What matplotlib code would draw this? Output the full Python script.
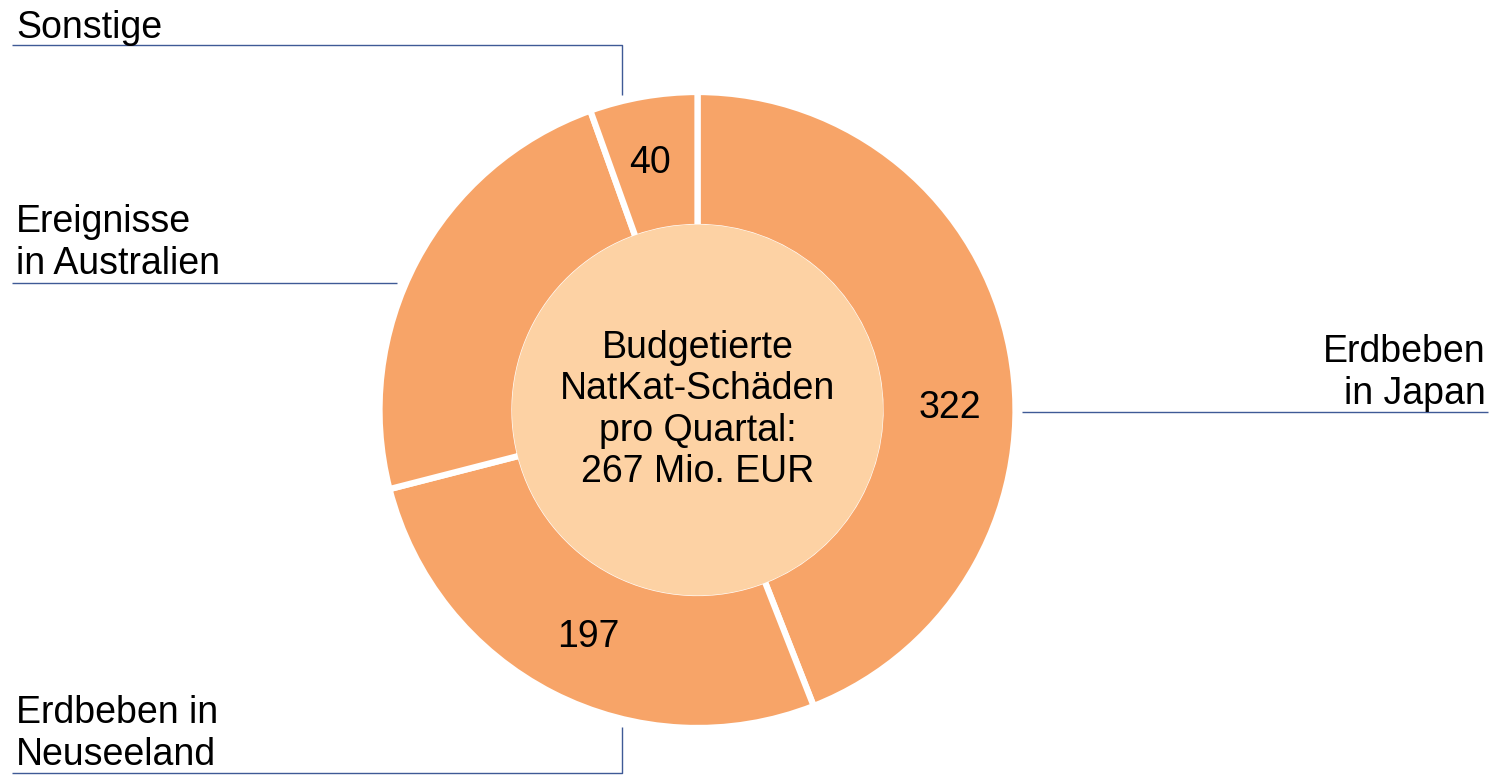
import matplotlib
matplotlib.use('Agg')
import matplotlib.pyplot as plt
from matplotlib.patches import Circle

# Budgetierte NatKat-Schäden je Region (Mio. EUR)
regionen = ['Erdbeben in Japan', 'Erdbeben in Neuseeland', 'Ereignisse in Australien', 'Sonstige']
werte = [322, 197, 172, 40]
wert_labels = ['322', '197', '', '40']
mitte_text = 'Budgetierte\nNatKat-Schäden\npro Quartal:\n267 Mio. EUR'

RING = '#F7A468'
INNEN = '#FDD2A4'
LINIE = '#3F5A96'

plt.rcParams['font.family'] = ['Liberation Sans', 'DejaVu Sans']

W, H = 1492, 775
fig = plt.figure(figsize=(W / 100, H / 100), dpi=100)
ax = fig.add_axes([0, 0, 1, 1])

cx, cy = 697.5, H - 410
r_aussen, r_innen = 318, 183

ax.pie(werte, center=(cx, cy), radius=r_aussen, startangle=90, counterclock=False,
       colors=[RING] * len(werte),
       wedgeprops=dict(width=r_aussen - r_innen, edgecolor='white', linewidth=4.5))
ax.set_xlim(0, W)
ax.set_ylim(0, H)
ax.set_aspect('equal')
ax.axis('off')
ax.add_patch(Circle((cx, cy), r_innen + 2.5, facecolor=INNEN, edgecolor='none', zorder=3))

ax.text(cx, cy, mitte_text, ha='center', va='center', fontsize=27,
        linespacing=1.2, zorder=4)

# Wertbeschriftungen im Ring
wert_pos = [(950, 408), (588, 637), None, (650, 163)]
for lab, pos in zip(wert_labels, wert_pos):
    if lab and pos:
        ax.text(pos[0], H - pos[1], lab, ha='center', va='center', fontsize=27, zorder=4)

# Legendenlinien und Beschriftungen
def linie(xs, ys):
    ax.plot(xs, [H - y for y in ys], color=LINIE, lw=1.0, solid_capstyle='butt')

linie([12, 622, 622], [45, 45, 95])
ax.text(16, H - 38, 'Sonstige', ha='left', va='baseline', fontsize=27)

linie([12, 397], [283, 283])
ax.text(16, H - 274, 'Ereignisse\nin Australien', ha='left', va='baseline', fontsize=27,
        linespacing=1.2)

linie([1022, 1488], [412, 412])
ax.text(1486, H - 404, 'Erdbeben\nin Japan', ha='right', va='baseline', fontsize=27,
        linespacing=1.2, multialignment='right')

linie([12, 622, 622], [773, 773, 727])
ax.text(16, H - 765, 'Erdbeben in\nNeuseeland', ha='left', va='baseline', fontsize=27,
        linespacing=1.2)

fig.savefig('out.png', dpi=100)
